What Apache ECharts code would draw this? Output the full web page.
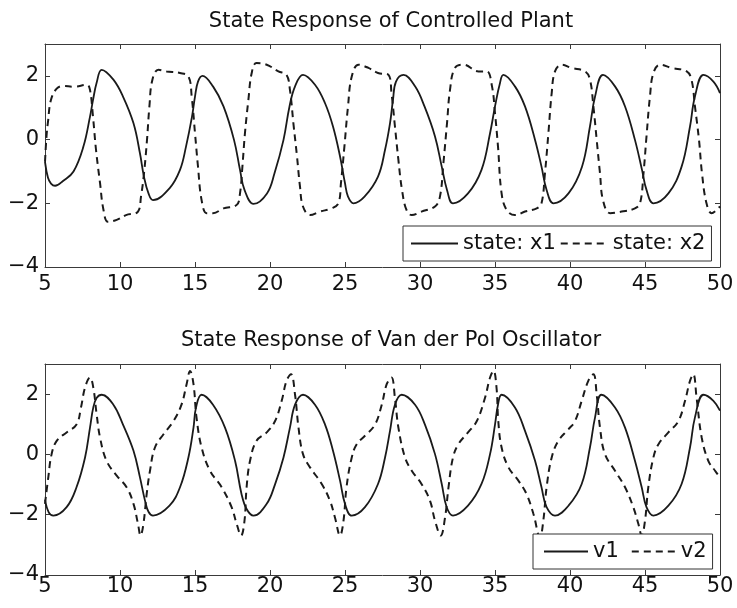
<!DOCTYPE html>
<html>
<head>
<meta charset="utf-8">
<script src="https://cdn.jsdelivr.net/npm/echarts@6/dist/echarts.min.js"></script>
<style>html,body{margin:0;padding:0;background:#fff}#c{width:737px;height:608px}</style>
</head>
<body>
<div id="c"></div>
<script>
var titles = ['State Response of Controlled Plant', 'State Response of Van der Pol Oscillator'];
var legendTop = ['state: x1', 'state: x2'];
var legendBottom = ['v1', 'v2'];
var xMin = 5, xMax = 50, xStep = 5;
var yMin = -4, yMax = 3, yStep = 2;

var x1 = [[5,-0.7],[5.2,-1.2],[5.4,-1.38],[5.67,-1.45],[6.2,-1.3],[6.9,-1.0],[7.56,-0.22],[8,0.72],[8.2,1.24],[8.45,1.8],[8.78,2.19],[9.56,1.88],[10.2,1.35],[10.9,0.51],[11.33,-0.43],[11.6,-1.17],[11.9,-1.69],[12.2,-1.9],[13.3,-1.53],[14,-0.95],[14.4,-0.22],[14.8,0.72],[15,1.35],[15.2,1.82],[15.5,2.0],[16.2,1.67],[16.9,1.04],[17.6,-0.01],[18,-0.95],[18.3,-1.58],[18.9,-2.02],[19.8,-1.69],[20.3,-1.06],[20.9,-0.01],[21.3,1.04],[21.67,1.67],[22.2,2.03],[23,1.72],[23.67,1.14],[24.2,0.41],[24.67,-0.53],[25,-1.37],[25.2,-1.79],[25.56,-2.0],[26.3,-1.79],[27.2,-1.16],[27.67,-0.32],[28,0.51],[28.2,1.25],[28.4,1.82],[28.9,2.03],[29.67,1.67],[30.3,1.04],[31,0.1],[31.45,-0.85],[31.8,-1.58],[32.2,-2.0],[33.2,-1.69],[34.1,-0.95],[34.67,0.2],[35,1.04],[35.33,1.77],[35.56,2.03],[36.33,1.67],[37,1.04],[37.67,-0.01],[38.1,-0.85],[38.44,-1.58],[38.9,-2.0],[39.9,-1.69],[40.8,-0.85],[41.33,0.41],[41.67,1.35],[42.2,2.03],[43,1.67],[43.67,1.04],[44.33,-0.01],[44.8,-0.95],[45.1,-1.58],[45.56,-2.0],[46.56,-1.69],[47.44,-0.85],[48,0.41],[48.33,1.35],[48.9,2.03],[49.56,1.82],[50,1.46]];

var x2 = [[5,-0.7],[5.1,0.1],[5.2,0.56],[5.4,1.25],[5.78,1.6],[6.2,1.68],[6.9,1.66],[7.8,1.72],[8,1.56],[8.2,0.72],[8.4,-0.32],[8.67,-1.37],[8.9,-2.21],[9.2,-2.58],[9.78,-2.52],[10.4,-2.37],[11.2,-2.26],[11.4,-1.79],[11.6,-1.06],[11.8,-0.01],[11.96,1.04],[12.16,1.88],[12.56,2.19],[13.1,2.14],[14,2.09],[14.56,1.98],[14.78,1.35],[15,0.2],[15.2,-0.85],[15.44,-1.9],[15.78,-2.31],[16.2,-2.31],[16.9,-2.16],[17.78,-2.05],[18,-1.69],[18.16,-0.85],[18.33,0.2],[18.56,1.25],[18.78,2.09],[19.1,2.4],[19.78,2.35],[20.56,2.14],[21.1,2.03],[21.33,1.56],[21.56,0.51],[21.8,-0.53],[22,-1.48],[22.2,-2.1],[22.67,-2.37],[23.33,-2.26],[24.1,-2.16],[24.56,-2.0],[24.73,-1.37],[24.96,-0.22],[25.2,1.04],[25.45,1.98],[25.9,2.35],[26.56,2.25],[27.2,2.09],[27.9,2.03],[28.1,1.46],[28.33,0.41],[28.56,-0.64],[28.8,-1.58],[29.1,-2.21],[29.45,-2.37],[30.1,-2.26],[31,-2.1],[31.33,-1.79],[31.56,-0.74],[31.8,0.51],[32,1.56],[32.33,2.25],[32.9,2.35],[33.9,2.14],[34.45,2.14],[34.8,1.67],[35,0.83],[35.2,-0.22],[35.44,-1.69],[35.78,-2.21],[36.33,-2.37],[37,-2.26],[37.78,-2.16],[38.1,-2.0],[38.33,-1.06],[38.56,0.2],[38.78,1.46],[39,2.14],[39.44,2.35],[40.1,2.25],[41,2.14],[41.33,1.88],[41.56,1.04],[41.78,-0.01],[42,-1.06],[42.2,-1.9],[42.67,-2.31],[43.44,-2.26],[44.33,-2.16],[44.67,-2.0],[44.9,-1.06],[45.1,0.1],[45.33,1.35],[45.56,2.09],[46,2.35],[46.78,2.25],[47.78,2.14],[48.1,1.88],[48.33,1.04],[48.6,-0.01],[48.8,-1.06],[49.1,-2.0],[49.44,-2.31],[49.78,-2.21],[50,-2.1]];

var v1 = [[5,-1.5],[5.25,-1.92],[5.56,-2.03],[6.44,-1.75],[7.1,-1.09],[7.67,-0.1],[8,0.89],[8.22,1.56],[8.45,1.88],[8.78,1.98],[9.56,1.65],[10.2,0.99],[10.9,0.12],[11.33,-0.76],[11.67,-1.54],[11.9,-1.9],[12.2,-2.03],[13.3,-1.7],[14,-1.09],[14.56,-0.1],[14.9,0.89],[15.07,1.56],[15.44,1.98],[16.2,1.65],[17,0.89],[17.67,-0.21],[18.1,-1.31],[18.44,-1.81],[18.9,-2.03],[19.78,-1.64],[20.33,-1.0],[20.9,-0.1],[21.33,0.89],[21.67,1.65],[22.2,1.98],[23,1.65],[23.67,0.99],[24.2,0.12],[24.67,-0.87],[25,-1.64],[25.45,-2.03],[26.33,-1.75],[27.2,-0.98],[27.67,-0.1],[28,0.78],[28.33,1.65],[28.78,1.98],[29.67,1.65],[30.33,0.99],[31,0.01],[31.45,-0.98],[31.78,-1.75],[32.2,-2.03],[33.2,-1.7],[34.1,-0.98],[34.67,0.01],[35,0.99],[35.2,1.65],[35.44,1.98],[36.33,1.56],[37,0.78],[37.67,-0.21],[38.1,-1.09],[38.44,-1.75],[39,-2.03],[39.9,-1.7],[40.78,-0.98],[41.33,0.23],[41.67,1.23],[42.1,1.98],[43,1.56],[43.67,0.89],[44.33,-0.21],[44.78,-1.09],[45.1,-1.75],[45.56,-2.03],[46.56,-1.7],[47.44,-0.98],[48,0.23],[48.33,1.23],[48.9,1.98],[49.56,1.78],[50,1.45]];

var v2 = [[5,-1.64],[5.22,-0.76],[5.44,0.01],[5.78,0.45],[6.44,0.73],[7.1,0.99],[7.4,1.56],[7.67,2.22],[8,2.55],[8.22,2.22],[8.44,1.34],[8.67,0.56],[9.1,-0.21],[9.78,-0.7],[10.44,-1.09],[10.9,-1.64],[11.2,-2.31],[11.37,-2.69],[11.56,-2.31],[11.78,-1.31],[12,-0.54],[12.33,0.23],[12.9,0.67],[13.56,1.1],[14.1,1.65],[14.44,2.33],[14.67,2.77],[14.9,2.33],[15.1,1.23],[15.44,0.23],[16,-0.54],[16.78,-1.09],[17.44,-1.75],[17.78,-2.31],[18.07,-2.69],[18.3,-2.2],[18.44,-1.09],[18.67,-0.21],[19.1,0.45],[19.78,0.73],[20.33,1.1],[20.78,1.78],[21.1,2.44],[21.4,2.66],[21.67,1.98],[21.9,0.89],[22.2,0.01],[22.67,-0.43],[23.45,-0.98],[24,-1.54],[24.33,-2.09],[24.67,-2.69],[24.9,-2.2],[25.1,-1.09],[25.45,-0.1],[25.78,0.34],[26.33,0.62],[27,0.99],[27.45,1.65],[27.78,2.33],[28.1,2.55],[28.33,1.87],[28.56,0.89],[29,-0.1],[29.45,-0.54],[30.1,-0.98],[30.67,-1.54],[31,-2.2],[31.38,-2.69],[31.67,-2.09],[31.9,-1.09],[32.2,-0.1],[32.56,0.34],[33.2,0.73],[33.78,1.1],[34.33,1.87],[34.67,2.55],[34.9,2.77],[35.1,2.22],[35.22,1.1],[35.44,0.23],[35.9,-0.43],[36.56,-0.87],[37.1,-1.31],[37.56,-1.97],[38,-2.75],[38.22,-2.2],[38.44,-1.09],[38.78,-0.1],[39.22,0.45],[39.9,0.84],[40.33,1.1],[40.78,1.78],[41.22,2.44],[41.56,2.66],[41.78,1.98],[42,0.89],[42.33,0.01],[43,-0.54],[43.67,-1.09],[44.22,-1.75],[44.56,-2.31],[44.78,-2.69],[45,-2.2],[45.22,-1.09],[45.56,-0.1],[45.9,0.34],[46.56,0.73],[47.22,1.1],[47.67,1.78],[48,2.44],[48.22,2.66],[48.44,1.87],[48.78,0.56],[49.22,-0.21],[49.67,-0.54],[50,-0.76]];

var FONT = 'DejaVu Sans';
var AX = '#3a3a3a';
var TXT = '#111';

function xAx(grid, pos, labelMargin) {
  return {
    type: 'value', gridIndex: grid, position: pos, min: xMin, max: xMax, interval: xStep,
    axisLine: {show: true, onZero: false, lineStyle: {color: AX, width: 1}},
    axisTick: {show: true, inside: true, length: 5, lineStyle: {color: AX}},
    axisLabel: {show: pos === 'bottom', margin: labelMargin, color: TXT, fontFamily: FONT, fontSize: 21},
    splitLine: {show: false}
  };
}
function yAx(grid, pos) {
  return {
    type: 'value', gridIndex: grid, position: pos, min: yMin, max: yMax, interval: yStep,
    axisLine: {show: true, onZero: false, lineStyle: {color: AX, width: 1}},
    axisTick: {show: true, inside: true, length: 5, lineStyle: {color: AX}},
    axisLabel: {show: pos === 'left', showMaxLabel: false, margin: 6, color: TXT, fontFamily: FONT, fontSize: 21,
      formatter: function (v) { return v < 0 ? '\u2212' + Math.abs(v) : String(v); }},
    splitLine: {show: false}
  };
}
function lineSeries(name, data, xi, yi, dashed) {
  return {
    name: name, type: 'line', data: data, xAxisIndex: xi, yAxisIndex: yi,
    symbol: 'none', smooth: 0.4, animation: false,
    lineStyle: {color: '#1a1a1a', width: dashed ? 2 : 1.8, type: dashed ? [7, 5] : 'solid'},
    itemStyle: {color: '#1a1a1a'}
  };
}
function legendCfg(names, left, top, pad, itemWidth, gap) {
  return {
    data: names, left: left, top: top, orient: 'horizontal',
    padding: pad, itemWidth: itemWidth, itemHeight: 14, itemGap: gap,
    backgroundColor: '#fff', borderColor: '#333', borderWidth: 1, borderRadius: 0,
    itemStyle: {opacity: 0},
    textStyle: {color: TXT, fontFamily: FONT, fontSize: 21},
    selectedMode: false
  };
}

var chart = echarts.init(document.getElementById('c'), null, {renderer: 'canvas'});
chart.setOption({
  animation: false,
  backgroundColor: '#fff',
  title: [
    {text: titles[0], left: 386, top: 6, textAlign: 'center', textStyle: {fontFamily: FONT, fontSize: 21, fontWeight: 'normal', color: TXT}},
    {text: titles[1], left: 386, top: 325, textAlign: 'center', textStyle: {fontFamily: FONT, fontSize: 21, fontWeight: 'normal', color: TXT}}
  ],
  grid: [
    {left: 45, top: 44, width: 675, height: 223},
    {left: 45, top: 364, width: 675, height: 211}
  ],
  xAxis: [xAx(0, 'bottom', 7), xAx(0, 'top', 7), xAx(1, 'bottom', 1), xAx(1, 'top', 1)],
  yAxis: [yAx(0, 'left'), yAx(0, 'right'), yAx(1, 'left'), yAx(1, 'right')],
  legend: [
    legendCfg(legendTop, 403, 226, [7, 6, 7, 7], 47, 4),
    legendCfg(legendBottom, 533, 534, [7, 6, 7, 10], 44, 12)
  ],
  series: [
    lineSeries(legendTop[0], x1, 0, 0, false),
    lineSeries(legendTop[1], x2, 0, 0, true),
    lineSeries(legendBottom[0], v1, 2, 2, false),
    lineSeries(legendBottom[1], v2, 2, 2, true)
  ]
});
</script>
</body>
</html>
